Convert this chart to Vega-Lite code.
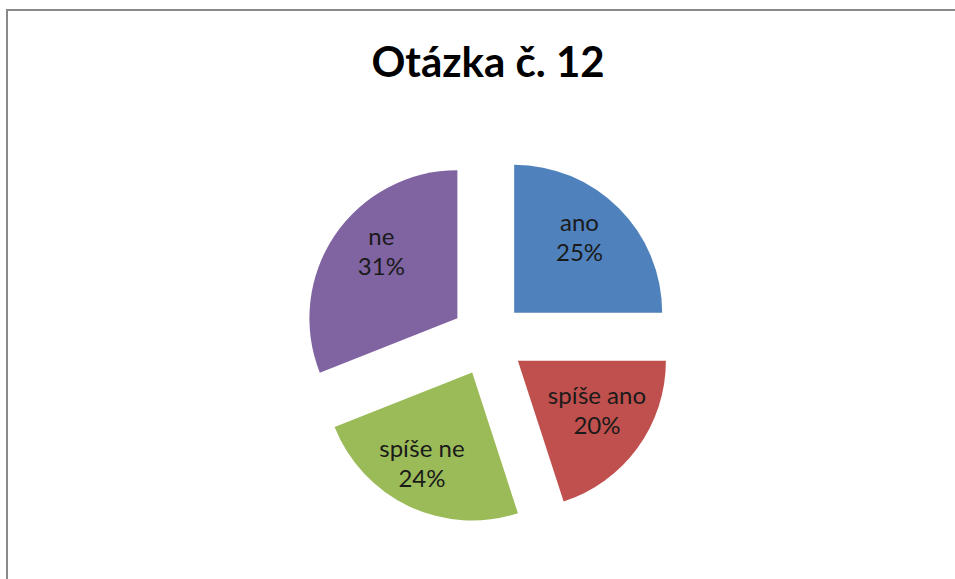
{
  "$schema": "https://vega.github.io/schema/vega-lite/v6.json",
  "width": 962,
  "height": 658,
  "autosize": {"type": "none"},
  "padding": {"left": 7, "top": 10, "right": -14, "bottom": -89},
  "background": "white",
  "view": {"stroke": "#898989", "strokeWidth": 2, "fill": "white"},
  "title": {
    "text": "Otázka č. 12",
    "font": "Lato",
    "fontSize": 42,
    "fontWeight": "bold",
    "color": "#000000",
    "anchor": "middle",
    "frame": "group",
    "offset": -76
  },
  "config": {"view": {"stroke": "#898989", "strokeWidth": 2}},
  "data": {
    "values": [
      {"idx": 1, "cat": "ano", "value": 0.25, "label": "ano\n25%"},
      {"idx": 2, "cat": "spíše ano", "value": 0.20, "label": "spíše ano\n20%"},
      {"idx": 3, "cat": "spíše ne", "value": 0.24, "label": "spíše ne\n24%"},
      {"idx": 4, "cat": "ne", "value": 0.31, "label": "ne\n31%"}
    ]
  },
  "encoding": {
    "theta": {"field": "value", "type": "quantitative", "stack": true},
    "order": {"field": "idx", "type": "quantitative"}
  },
  "layer": [
    {
      "mark": {"type": "arc", "outerRadius": 148, "xOffset": 26.2, "yOffset": -26.2},
      "encoding": {
        "color": {"field": "cat", "type": "nominal", "legend": null, "scale": {"domain": ["ano", "spíše ano", "spíše ne", "ne"], "range": ["#4F81BD", "#C0504D", "#9BBB59", "#8064A2"]}},
        "opacity": {"condition": {"test": "datum.cat === 'ano'", "value": 1}, "value": 0}
      }
    },
    {
      "mark": {"type": "arc", "outerRadius": 148, "xOffset": 29.9, "yOffset": 21.7},
      "encoding": {
        "color": {"field": "cat", "type": "nominal", "legend": null},
        "opacity": {"condition": {"test": "datum.cat === 'spíše ano'", "value": 1}, "value": 0}
      }
    },
    {
      "mark": {"type": "arc", "outerRadius": 148, "xOffset": -15.8, "yOffset": 33.5},
      "encoding": {
        "color": {"field": "cat", "type": "nominal", "legend": null},
        "opacity": {"condition": {"test": "datum.cat === 'spíše ne'", "value": 1}, "value": 0}
      }
    },
    {
      "mark": {"type": "arc", "outerRadius": 148, "xOffset": -30.6, "yOffset": -20.8},
      "encoding": {
        "color": {"field": "cat", "type": "nominal", "legend": null},
        "opacity": {"condition": {"test": "datum.cat === 'ne'", "value": 1}, "value": 0}
      }
    },
    {
      "mark": {"type": "text", "radius": 98, "xOffset": 22.2, "yOffset": -46, "font": "Lato", "fontSize": 24, "lineBreak": "\n", "lineHeight": 30, "color": "#1a1a1a"},
      "encoding": {
        "detail": {"field": "cat", "type": "nominal"},
        "text": {"condition": {"test": "datum.cat === 'ano'", "field": "label"}, "value": ""}
      }
    },
    {
      "mark": {"type": "text", "radius": 94, "xOffset": 32.9, "yOffset": 3, "font": "Lato", "fontSize": 24, "lineBreak": "\n", "lineHeight": 30, "color": "#1a1a1a"},
      "encoding": {
        "detail": {"field": "cat", "type": "nominal"},
        "text": {"condition": {"test": "datum.cat === 'spíše ano'", "field": "label"}, "value": ""}
      }
    },
    {
      "mark": {"type": "text", "radius": 104, "xOffset": -21.8, "yOffset": 16.5, "font": "Lato", "fontSize": 24, "lineBreak": "\n", "lineHeight": 30, "color": "#1a1a1a"},
      "encoding": {
        "detail": {"field": "cat", "type": "nominal"},
        "text": {"condition": {"test": "datum.cat === 'spíše ne'", "field": "label"}, "value": ""}
      }
    },
    {
      "mark": {"type": "text", "radius": 101, "xOffset": -23.1, "yOffset": -44.5, "font": "Lato", "fontSize": 24, "lineBreak": "\n", "lineHeight": 30, "color": "#1a1a1a"},
      "encoding": {
        "detail": {"field": "cat", "type": "nominal"},
        "text": {"condition": {"test": "datum.cat === 'ne'", "field": "label"}, "value": ""}
      }
    }
  ]
}
